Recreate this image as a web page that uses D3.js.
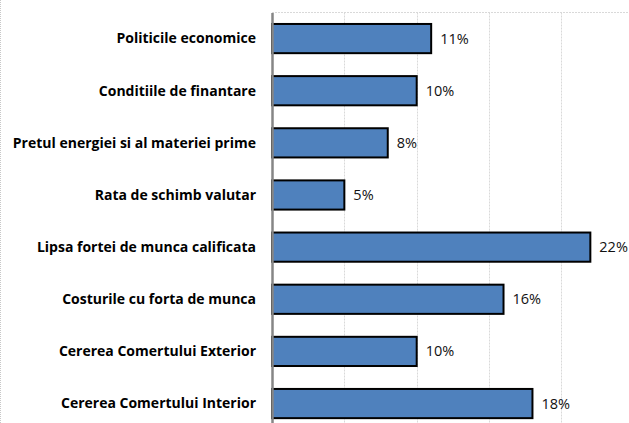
<!DOCTYPE html>
<html>
<head>
<meta charset="utf-8">
<script src="https://cdn.jsdelivr.net/npm/d3@7"></script>
<style>
  body { margin: 0; background: #fff; }
  svg { display: block; }
  .cat { font-family: "Open Sans", sans-serif; font-weight: bold; font-size: 14px; fill: #000; }
  .val { font-family: "Open Sans", sans-serif; font-size: 14.5px; fill: #111; }
</style>
</head>
<body>
<div id="chart"></div>
<script>
const categories = [
    "Politicile economice",
    "Conditiile de finantare",
    "Pretul energiei si al materiei prime",
    "Rata de schimb valutar ",
    "Lipsa fortei de munca calificata",
    "Costurile cu forta de munca",
    "Cererea Comertului Exterior",
    "Cererea Comertului Interior"
];
const values = [11, 10, 8, 5, 22, 16, 10, 18];
const gridTicks = [5, 10, 15, 20];

const W = 629, H = 423;
const margin = { top: 12.5, left: 272 };
const plotW = 14.47 * 24.5;
const plotH = 52.14 * 8;

const svg = d3.select("#chart").append("svg")
    .attr("width", W)
    .attr("height", H);

// chart border on the left (dotted)
svg.append("line")
    .attr("x1", 0.5).attr("x2", 0.5)
    .attr("y1", 0).attr("y2", H)
    .attr("stroke", "#c8c8c8")
    .attr("stroke-dasharray", "1,1");

const g = svg.append("g")
    .attr("transform", "translate(" + margin.left + "," + margin.top + ")");

const x = d3.scaleLinear().domain([0, 24.5]).range([0, plotW]);
const y = d3.scaleBand().domain(categories).range([0, plotH]).paddingInner(0.44).paddingOuter(0.22);

// gridlines
g.selectAll(".grid")
    .data(gridTicks)
    .enter()
    .append("line")
    .attr("x1", d => Math.round(x(d)) + 0.5)
    .attr("x2", d => Math.round(x(d)) + 0.5)
    .attr("y1", 0)
    .attr("y2", plotH)
    .attr("stroke", "#d9d9d9")
    .attr("stroke-dasharray", "2,1");

// top border of plot area
g.append("line")
    .attr("x1", 0).attr("x2", W - margin.left)
    .attr("y1", 0).attr("y2", 0)
    .attr("stroke", "#d9d9d9")
    .attr("stroke-dasharray", "2,1");

// bars
g.selectAll(".bar")
    .data(values)
    .enter()
    .append("rect")
    .attr("x", 0)
    .attr("y", (d, i) => y(categories[i]))
    .attr("width", d => x(d))
    .attr("height", y.bandwidth())
    .attr("fill", "#4f81bd")
    .attr("stroke", "#000")
    .attr("stroke-width", 2);

// value labels
g.selectAll(".val")
    .data(values)
    .enter()
    .append("text")
    .attr("class", "val")
    .attr("x", d => x(d) + 9)
    .attr("y", (d, i) => y(categories[i]) + y.bandwidth() / 2)
    .attr("dy", "0.35em")
    .text(d => d + "%");

// category axis
const yAxis = g.append("g")
    .call(d3.axisLeft(y).tickSize(0).tickPadding(16));
yAxis.select(".domain").attr("stroke", "#868686").attr("stroke-width", 2.5);
yAxis.selectAll("text")
    .attr("class", "cat")
    .attr("dy", "0.35em");
</script>
</body>
</html>
